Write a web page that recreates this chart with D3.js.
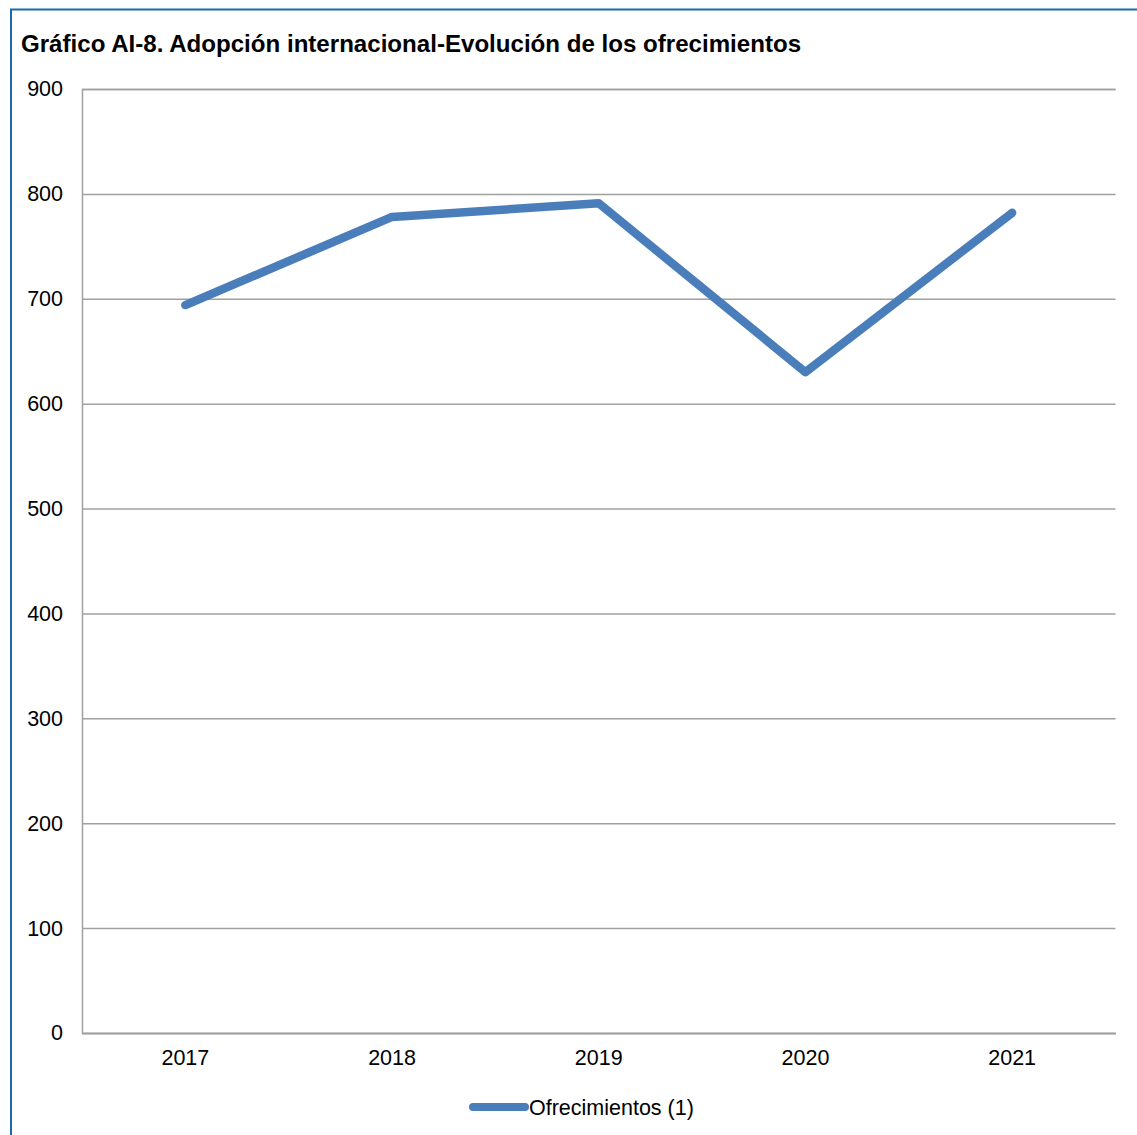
<!DOCTYPE html>
<html>
<head>
<meta charset="utf-8">
<script src="https://cdn.jsdelivr.net/npm/d3@7"></script>
<style>
  html, body { margin: 0; padding: 0; background: #fff; }
  svg { display: block; font-family: "Liberation Sans", Arial, sans-serif; }
</style>
</head>
<body>
<svg id="chart" width="1137" height="1135"></svg>
<script>
const categories = ["2017", "2018", "2019", "2020", "2021"];
const seriesName = "Ofrecimientos (1)";
const values = [694, 778, 791, 630, 782];
const yTicks = [0, 100, 200, 300, 400, 500, 600, 700, 800, 900];
const title = "Gráfico AI-8. Adopción internacional-Evolución de los ofrecimientos";

const svg = d3.select("#chart");
const W = 1137, H = 1135;
const m = { left: 82, right: 1115.5, top: 89, bottom: 1033 };
const FS = 21.5;

svg.append("rect").attr("x", 0).attr("y", 0).attr("width", W).attr("height", H).attr("fill", "#fff");
// Frame border (left and top visible)
svg.append("rect").attr("x", 11).attr("y", 9.5).attr("width", W + 20).attr("height", H + 20)
  .attr("fill", "none").attr("stroke", "#1a6aab").attr("stroke-width", 2);

svg.append("text").attr("x", 21).attr("y", 51.5)
  .attr("font-size", 24.1).attr("font-weight", "bold").attr("fill", "#000").text(title);

const x = d3.scaleBand().domain(categories).range([m.left, m.right]);
const y = d3.scaleLinear().domain([0, 900]).range([m.bottom, m.top]);

// Gridlines
const yAxis = d3.axisLeft(y).tickValues(yTicks).tickSize(-(m.right - m.left)).tickPadding(19);
const gy = svg.append("g").attr("transform", `translate(${m.left},0)`).call(yAxis);
gy.select(".domain").attr("stroke", "#a0a0a0").attr("stroke-width", 1.5);
gy.selectAll(".tick line").attr("stroke", "#a0a0a0").attr("stroke-width", 1.5);
gy.selectAll(".tick text").attr("font-size", FS).attr("fill", "#000")
  .attr("font-family", "Liberation Sans, Arial, sans-serif");

const xAxis = d3.axisBottom(x).tickSize(0).tickPadding(16.5);
const gx = svg.append("g").attr("transform", `translate(0,${m.bottom})`).call(xAxis);
gx.select(".domain").attr("stroke", "#a0a0a0").attr("stroke-width", 1.5);
gx.selectAll(".tick text").attr("font-size", FS).attr("fill", "#000")
  .attr("font-family", "Liberation Sans, Arial, sans-serif");

const color = "#4a7ebb";
const line = d3.line().x((d, i) => x(categories[i]) + x.bandwidth() / 2).y(d => y(d));
svg.append("path").datum(values).attr("d", line)
  .attr("fill", "none").attr("stroke", color).attr("stroke-width", 8.5)
  .attr("stroke-linecap", "round").attr("stroke-linejoin", "round");

// Legend
const lg = svg.append("g").attr("transform", "translate(473,1107)");
lg.append("line").attr("x1", 0).attr("x2", 52).attr("y1", 0).attr("y2", 0)
  .attr("stroke", color).attr("stroke-width", 8).attr("stroke-linecap", "round");
lg.append("text").attr("x", 56).attr("y", 7.5).attr("font-size", FS).attr("fill", "#000").text(seriesName);
</script>
</body>
</html>
